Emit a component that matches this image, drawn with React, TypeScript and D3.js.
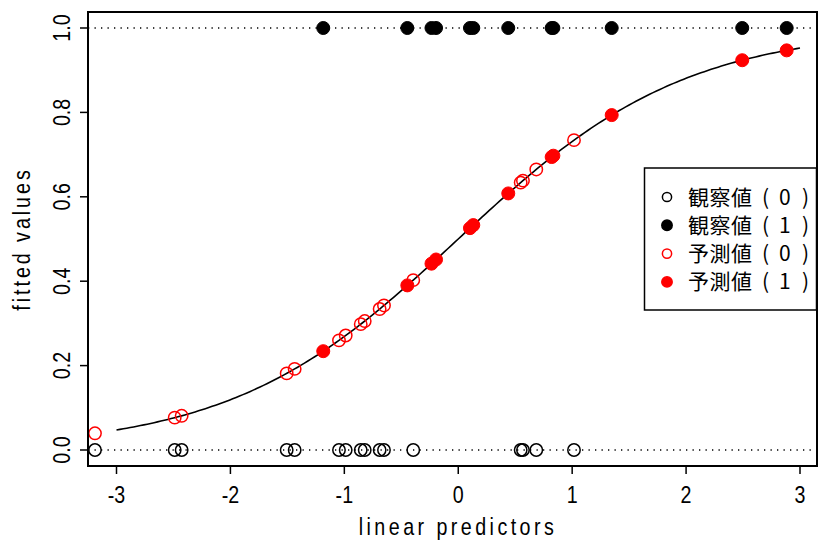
import React from "react";
import * as d3 from "d3";

// linear predictors of observations with y = 0 and y = 1
const obs0: number[] = [-3.189, -2.489, -2.428, -1.506, -1.436, -1.047, -0.988, -0.856, -0.821, -0.69, -0.652, -0.395, 0.548, 0.568, 0.685, 1.016];
const obs1: number[] = [-1.185, -0.447, -0.235, -0.195, 0.103, 0.132, 0.439, 0.82, 0.835, 1.347, 2.493, 2.883];
const xTicks: number[] = [-3, -2, -1, 0, 1, 2, 3];
const yTicks: number[] = [0, 0.2, 0.4, 0.6, 0.8, 1.0];
const legendNames: string[] = ["観察値", "観察値", "予測値", "予測値"];
const legendCodes: string[] = ["0", "1", "0", "1"];
const curveRange: [number, number] = [-3, 3];

const logistic = (v: number) => 1 / (1 + Math.exp(-v));

const W = 818, H = 545;
const L = 88, T = 12, R = 817, B = 466;

const x = d3.scaleLinear().domain([-3, 3]).range([116.5, 800]);
const y = d3.scaleLinear().domain([0, 1]).range([450, 28]);

const FONT = "'Liberation Sans', Arial, sans-serif";
const CJK = "'Noto Sans CJK JP', 'Noto Sans', sans-serif";
const NARROW = 0.82;

export default function App() {
  const curvePts = d3.range(0, 201).map((i) => {
    const v = curveRange[0] + ((curveRange[1] - curveRange[0]) * i) / 200;
    return [v, logistic(v)] as [number, number];
  });
  const line = d3.line<[number, number]>().x((d) => x(d[0])).y((d) => y(d[1]));

  const legendSyms = [
    { stroke: "#000", fill: "none" },
    { stroke: "#000", fill: "#000" },
    { stroke: "#ff0000", fill: "none" },
    { stroke: "#ff0000", fill: "#ff0000" },
  ];

  return (
    <div style={{ position: "absolute", left: 0, top: 0 }}>
      <svg width={W} height={H} style={{ display: "block", background: "#fff" }}>
        <defs>
          <clipPath id="plotclip">
            <rect x={L} y={T} width={R - L} height={B - T} />
          </clipPath>
        </defs>
        {/* reference dotted lines */}
        <line x1={L} x2={R} y1={y(0)} y2={y(0)} stroke="#000" strokeWidth={1.3} strokeDasharray="1.3 5.2" />
        <line x1={L} x2={R} y1={y(1)} y2={y(1)} stroke="#000" strokeWidth={1.3} strokeDasharray="1.3 5.2" />
        {/* fitted curve */}
        <path d={line(curvePts) || ""} fill="none" stroke="#000" strokeWidth={1.6} />
        <g clipPath="url(#plotclip)">
          {obs0.map((v, i) => (
            <circle key={"o0" + i} cx={x(v)} cy={y(0)} r={6.2} fill="none" stroke="#000" strokeWidth={1.5} />
          ))}
          {obs1.map((v, i) => (
            <circle key={"o1" + i} cx={x(v)} cy={y(1)} r={6.5} fill="#000" stroke="#000" strokeWidth={1} />
          ))}
          {obs0.map((v, i) => (
            <circle key={"p0" + i} cx={x(v)} cy={y(logistic(v))} r={6.2} fill="none" stroke="#ff0000" strokeWidth={1.5} />
          ))}
          {obs1.map((v, i) => (
            <circle key={"p1" + i} cx={x(v)} cy={y(logistic(v))} r={6.5} fill="#ff0000" stroke="#ff0000" strokeWidth={1} />
          ))}
        </g>
        {/* box */}
        <rect x={L} y={T} width={R - L} height={B - T} fill="none" stroke="#000" strokeWidth={2} />
        {/* x axis */}
        {xTicks.map((t) => (
          <g key={"xt" + t}>
            <line x1={x(t)} x2={x(t)} y1={B} y2={B + 8} stroke="#000" strokeWidth={1.5} />
            <text
              transform={`translate(${x(t)},503) scale(${NARROW},1)`}
              textAnchor="middle"
              fontFamily={FONT}
              fontSize={24}
              fill="#000"
            >
              {t}
            </text>
          </g>
        ))}
        <text
          transform={`translate(458,535) scale(${NARROW},1)`}
          textAnchor="middle"
          fontFamily={FONT}
          fontSize={24}
          letterSpacing={4.2}
          fill="#000"
        >
          linear predictors
        </text>
        {/* y axis */}
        {yTicks.map((t) => (
          <g key={"yt" + t}>
            <line x1={L} x2={L - 8} y1={y(t)} y2={y(t)} stroke="#000" strokeWidth={1.5} />
            <text
              transform={`translate(70,${y(t)}) rotate(-90) scale(${NARROW},1)`}
              textAnchor="middle"
              fontFamily={FONT}
              fontSize={24}
              fill="#000"
            >
              {d3.format(".1f")(t)}
            </text>
          </g>
        ))}
        <text
          transform={`translate(30,${y(0.5)}) rotate(-90) scale(${NARROW},1)`}
          textAnchor="middle"
          fontFamily={FONT}
          fontSize={24}
          letterSpacing={3.6}
          fill="#000"
        >
          fitted values
        </text>
        {/* legend */}
        <rect x={644.5} y={168} width={172} height={142} fill="#fff" stroke="#000" strokeWidth={1.5} />
        {legendNames.map((lab, i) => {
          const cy = 197 + i * 28.3;
          return (
            <g key={"lg" + i}>
              <circle
                cx={667}
                cy={cy}
                r={legendSyms[i].fill === "none" ? 4.6 : 5.2}
                fill={legendSyms[i].fill}
                stroke={legendSyms[i].stroke}
                strokeWidth={1.5}
              />
              <text y={cy + 7.5} fontFamily={CJK} fontSize={21} fill="#000">
                <tspan x={688} letterSpacing={0.5}>{lab}</tspan>
                <tspan x={762}>(</tspan>
                <tspan x={779}>{legendCodes[i]}</tspan>
                <tspan x={802}>)</tspan>
              </text>
            </g>
          );
        })}
      </svg>
    </div>
  );
}
